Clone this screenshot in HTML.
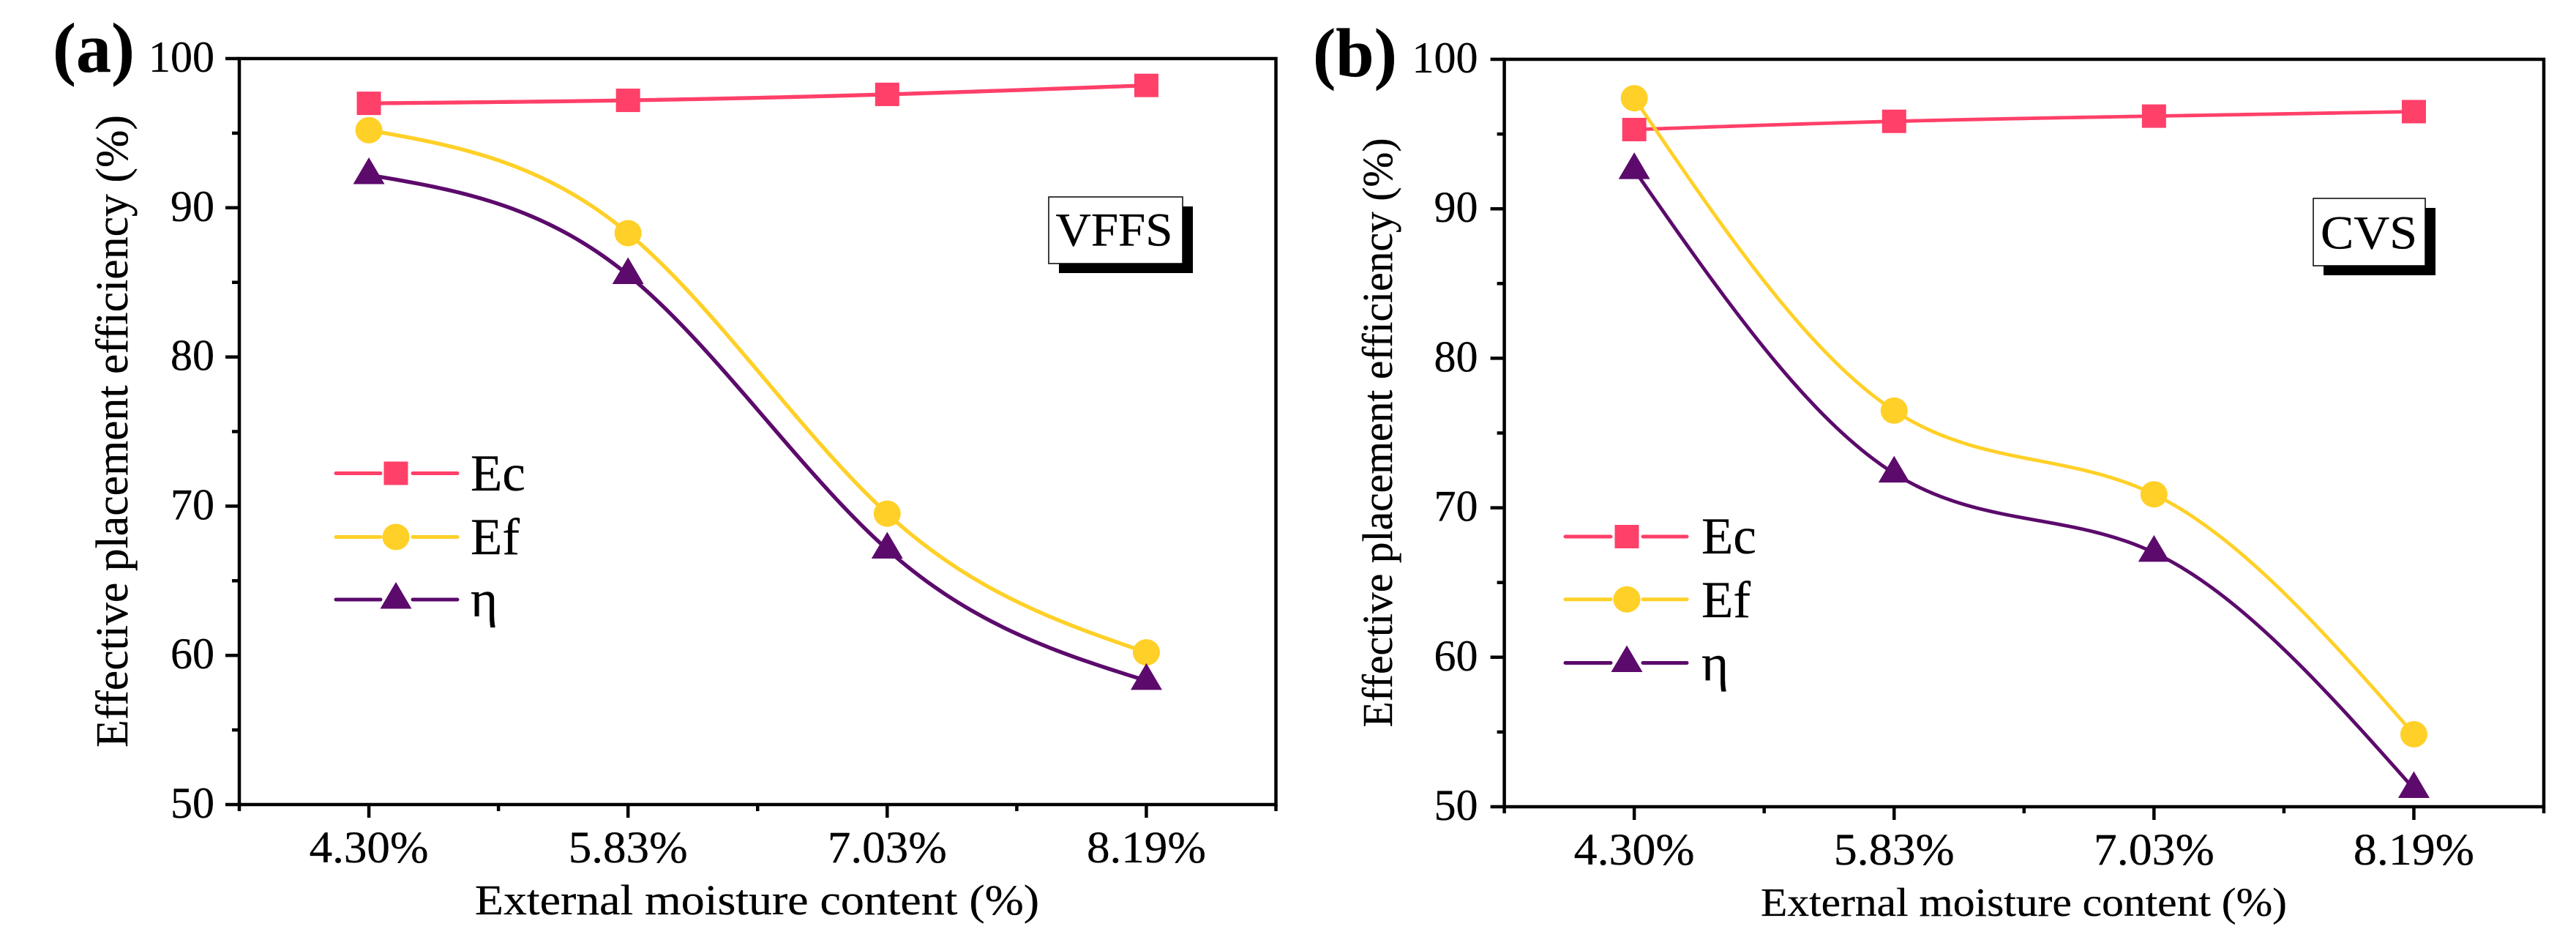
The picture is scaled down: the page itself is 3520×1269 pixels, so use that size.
<!DOCTYPE html>
<html lang="en">
<head>
<meta charset="utf-8">
<title>Effective placement efficiency vs external moisture content</title>
<style>
  html, body { margin: 0; padding: 0; background: #fff; }
  body { width: 3520px; height: 1269px; overflow: hidden; }
  svg { display: block; }
  text { font-family: "Liberation Serif", serif; fill: #000; stroke: #000; stroke-width: 0.3px; }
</style>
</head>
<body>
<svg id="chart" xmlns="http://www.w3.org/2000/svg" width="3520" height="1269" viewBox="0 0 3520 1269"></svg>
<script>
// ---- chart data ----
const categories = ["4.30%", "5.83%", "7.03%", "8.19%"];
const yMajorTicks = [50, 60, 70, 80, 90, 100];
const yMinorTicks = [55, 65, 75, 85, 95];
const seriesNames = ["Ec", "Ef", "η"];

const ecVFFS = [97.0, 97.2, 97.6, 98.2];
const efVFFS = [95.2, 88.3, 69.5, 60.2];
const etaVFFS = [92.2, 85.5, 67.1, 58.3];

const ecCVS = [95.3, 95.85, 96.2, 96.5];
const efCVS = [97.4, 76.5, 70.9, 54.85];
const etaCVS = [92.6, 72.3, 67.0, 51.2];

const xAxisTitle = "External moisture content (%)";
const yAxisTitle = "Effective placement efficiency (%)";

// ---- styling and layout ----
const colors = ["#ff4069", "#ffd027", "#5c0a6c"];
const markerKinds = ["square", "circle", "triangle"];
const svg = document.getElementById("chart");
const NS = "http://www.w3.org/2000/svg";

const panels = [
  {
    key: "vffs", tag: "(a)", tagX: 72, tagY: 98, tagSize: 96, lineWidth: 5.3,
    left: 327, right: 1743.5, top: 80, bottom: 1099,
    tickLabelRight: 293, xLabelBase: 1178, xLabelLen: 163, xLabelSize: 61,
    xTitleX: 649, xTitleY: 1249, xTitleLen: 771, xTitleSize: 58,
    yTitleX: 174, yTitleY: 1021, yTitleLen: 864, yTitleSize: 62,
    legLine: [459, 625], legGap: [520, 564], legMark: 541, legText: 643,
    legY: [646.5, 733.5, 819], legBase: [670, 757, 842],
    box: { x: 1433, y: 269, w: 183, h: 91, dx: 14, dy: 13, text: "VFFS", tx: 1442.5, ty: 335.5, tl: 160 },
    values: [ecVFFS, efVFFS, etaVFFS]
  },
  {
    key: "cvs", tag: "(b)", tagX: 1794, tagY: 104, tagSize: 94, lineWidth: 4.8,
    left: 2055.6, right: 3476, top: 81, bottom: 1102,
    tickLabelRight: 2019.5, xLabelBase: 1181, xLabelLen: 165, xLabelSize: 61,
    xTitleX: 2406, xTitleY: 1251, xTitleLen: 719, xTitleSize: 55,
    yTitleX: 1902, yTitleY: 993.5, yTitleLen: 805, yTitleSize: 58,
    legLine: [2139, 2305], legGap: [2201, 2245], legMark: 2223, legText: 2325,
    legY: [733, 818.7, 905.5], legBase: [756, 843, 929.5],
    box: { x: 3161, y: 271, w: 153, h: 92, dx: 14, dy: 13, text: "CVS", tx: 3171, ty: 339.5, tl: 132 },
    values: [ecCVS, efCVS, etaCVS]
  }
];

function make(parent, tag, attrs, content) {
  const el = document.createElementNS(NS, tag);
  for (const k in attrs) el.setAttribute(k, attrs[k]);
  if (content !== undefined) el.textContent = content;
  parent.appendChild(el);
  return el;
}

// natural cubic spline second derivatives over unit-spaced knots
function splineCurvature(ys) {
  const n = ys.length;
  const m = new Array(n).fill(0);
  const c = new Array(n).fill(0);
  const d = new Array(n).fill(0);
  for (let i = 1; i < n - 1; i++) {
    const rhs = 6 * (ys[i + 1] - 2 * ys[i] + ys[i - 1]);
    const w = 4 - c[i - 1];
    c[i] = 1 / w;
    d[i] = (rhs - d[i - 1]) / w;
  }
  for (let i = n - 2; i > 0; i--) m[i] = d[i] - c[i] * m[i + 1];
  return m;
}

function splineAt(ys, m, t) {
  const i = Math.min(Math.floor(t), ys.length - 2);
  const b = t - i;
  const a = 1 - b;
  return a * ys[i] + b * ys[i + 1] + ((a * a * a - a) * m[i] + (b * b * b - b) * m[i + 1]) / 6;
}

function drawMarker(parent, kind, cx, cy, color) {
  if (kind === "square") {
    return make(parent, "rect", { x: cx - 16.5, y: cy - 16, width: 33, height: 32, fill: color });
  }
  if (kind === "circle") {
    return make(parent, "ellipse", { cx: cx, cy: cy, rx: 18.5, ry: 18, fill: color });
  }
  const pts = [[cx, cy - 24], [cx + 21.5, cy + 12.5], [cx - 21.5, cy + 12.5]];
  return make(parent, "polygon", { points: pts.map(p => p.join(",")).join(" "), fill: color });
}

panels.forEach(function (p) {
  const xScale = v => p.left + (v + 0.5) * (p.right - p.left) / categories.length;
  const yScale = v => p.bottom - (v - 50) * (p.bottom - p.top) / 50;

  const group = make(svg, "g", {});
  
  

  const tag = make(group, "text", { x: p.tagX, y: p.tagY, "font-size": p.tagSize, "font-weight": "bold" }, p.tag);
  
  

  // y ticks
  yMajorTicks.forEach(function (v) {
    const t = make(group, "line", { x1: p.left - 19, x2: p.left, y1: yScale(v), y2: yScale(v), stroke: "#000", "stroke-width": 4.5 });
    
    
    const l = make(group, "text", { x: p.tickLabelRight, y: yScale(v) + 18, "font-size": 60, "text-anchor": "end" }, String(v));
    
    
  });
  yMinorTicks.forEach(function (v) {
    const t = make(group, "line", { x1: p.left - 10, x2: p.left, y1: yScale(v), y2: yScale(v), stroke: "#000", "stroke-width": 4.5 });
    
    
  });

  // x ticks
  categories.forEach(function (c, i) {
    const t = make(group, "line", { x1: xScale(i), x2: xScale(i), y1: p.bottom, y2: p.bottom + 18, stroke: "#000", "stroke-width": 4.5 });
    
    
    const l = make(group, "text", { x: xScale(i), y: p.xLabelBase, "font-size": p.xLabelSize, "text-anchor": "middle", textLength: p.xLabelLen, lengthAdjust: "spacingAndGlyphs" }, c);
    
    
  });
  for (let i = 0; i <= categories.length; i++) {
    const t = make(group, "line", { x1: xScale(i - 0.5), x2: xScale(i - 0.5), y1: p.bottom, y2: p.bottom + 9, stroke: "#000", "stroke-width": 4.5 });
    
    
  }

  // frame
  const frame = make(group, "rect", { x: p.left, y: p.top, width: p.right - p.left, height: p.bottom - p.top, fill: "none", stroke: "#000", "stroke-width": 4.5 });
  
  

  // titles
  const xt = make(group, "text", { x: p.xTitleX, y: p.xTitleY, "font-size": p.xTitleSize, textLength: p.xTitleLen, lengthAdjust: "spacingAndGlyphs" }, xAxisTitle);
  
  
  const yt = make(group, "text", { transform: "translate(" + p.yTitleX + "," + p.yTitleY + ") rotate(-90)", "font-size": p.yTitleSize, textLength: p.yTitleLen, lengthAdjust: "spacingAndGlyphs" }, yAxisTitle);
  
  

  // series
  p.values.forEach(function (vals, s) {
    const curv = splineCurvature(vals);
    const pts = [];
    for (let k = 0; k <= 120; k++) {
      const t = k / 120 * (vals.length - 1);
      pts.push(xScale(t).toFixed(2) + "," + yScale(splineAt(vals, curv, t)).toFixed(2));
    }
    const line = make(group, "polyline", { points: pts.join(" "), fill: "none", stroke: colors[s], "stroke-width": p.lineWidth, "stroke-linejoin": "round" });
    
    
  });
  p.values.forEach(function (vals, s) {
    vals.forEach(function (v, i) {
      const mk = drawMarker(group, markerKinds[s], xScale(i), yScale(v), colors[s]);
      
      
    });
  });

  // legend
  seriesNames.forEach(function (name, s) {
    const y = p.legY[s];
    const a = make(group, "line", { x1: p.legLine[0], x2: p.legGap[0], y1: y, y2: y, stroke: colors[s], "stroke-width": 5, "stroke-linecap": "round" });
    
    
    const b = make(group, "line", { x1: p.legGap[1], x2: p.legLine[1], y1: y, y2: y, stroke: colors[s], "stroke-width": 5, "stroke-linecap": "round" });
    
    
    const m = drawMarker(group, markerKinds[s], p.legMark, y, colors[s]);
    
    
    const t = make(group, "text", { x: p.legText, y: p.legBase[s], "font-size": 71 }, name);
    
    
  });

  // sample label box with drop shadow
  const bx = p.box;
  const shadow = make(group, "rect", { x: bx.x + bx.dx, y: bx.y + bx.dy, width: bx.w, height: bx.h, fill: "#000" });
  
  
  const box = make(group, "rect", { x: bx.x, y: bx.y, width: bx.w, height: bx.h, fill: "#fff", stroke: "#000", "stroke-width": 1.5 });
  
  
  const bt = make(group, "text", { x: bx.tx, y: bx.ty, "font-size": 65, textLength: bx.tl, lengthAdjust: "spacingAndGlyphs" }, bx.text);
  
  
});
</script>
</body>
</html>
